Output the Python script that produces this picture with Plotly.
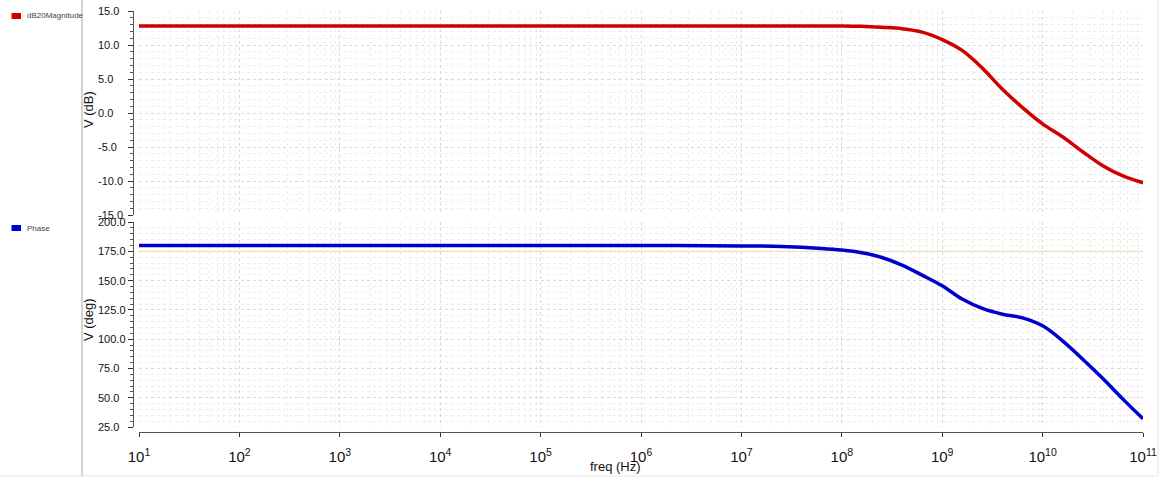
import plotly.graph_objects as go

# AC sweep results: magnitude (dB20) and phase of V vs frequency
mag_freq_hz = [1e1, 1e3, 1e5, 1e7, 1e8, 1.58e8, 2.51e8, 3.98e8, 6.31e8, 1e9,
               1.58e9, 2.51e9, 3.98e9, 6.31e9, 1e10, 1.58e10, 2.51e10,
               3.98e10, 6.31e10, 1e11]
mag_db = [12.8, 12.8, 12.8, 12.8, 12.8, 12.75, 12.6, 12.4, 11.9, 10.8,
          9.2, 6.6, 3.5, 0.8, -1.6, -3.5, -5.7, -7.75, -9.25, -10.25]

phase_freq_hz = [1e1, 1e3, 1e5, 1e6, 1e7, 2.51e7, 6.31e7, 1e8, 1.58e8, 2.51e8,
                 3.98e8, 6.31e8, 1e9, 1.58e9, 2.51e9, 3.98e9, 6.31e9, 1e10,
                 1.58e10, 2.51e10, 3.98e10, 6.31e10, 1e11]
phase_deg = [180.0, 180.0, 180.0, 180.0, 179.6, 179.1, 177.4, 176.0, 173.7,
             169.7, 163.2, 154.6, 145.5, 134.2, 126.2, 121.3, 118.2, 111.4,
             98.6, 82.9, 66.4, 48.8, 32.0]

phase_ref_deg = 175.0

# axis ticks
decade_exponents = list(range(1, 12))
freq_tick_vals = [10 ** e for e in decade_exponents]
freq_tick_text = [f"10<sup>{e}</sup>" for e in decade_exponents]
freq_minor_vals = [m * 10 ** e for e in decade_exponents[:-1] for m in range(2, 10)]
mag_tick_vals = [-15, -10, -5, 0, 5, 10, 15]
phase_tick_vals = [25, 50, 75, 100, 125, 150, 175, 200]

mag_name = "dB20Magnitude"
phase_name = "Phase"
mag_color = "#d10000"
phase_color = "#0000cc"

W, H = 1168, 483


def px_x(x):
    return x / W


def px_y(y):
    return 1 - y / H


fig = go.Figure()
fig.add_trace(go.Scatter(x=mag_freq_hz, y=mag_db, mode="lines", name=mag_name,
                         line=dict(color=mag_color, width=3.5, shape="spline", smoothing=1.0),
                         xaxis="x2", yaxis="y", showlegend=False))
fig.add_trace(go.Scatter(x=phase_freq_hz, y=phase_deg, mode="lines", name=phase_name,
                         line=dict(color=phase_color, width=3.5, shape="spline", smoothing=1.0),
                         xaxis="x", yaxis="y2", showlegend=False))

grid_major = "#d9d9d9"
grid_minor = "#ededed"
FONT = "Liberation Sans, Arial, sans-serif"
tick_font = dict(family=FONT, size=11, color="#111")

x_dom = [px_x(139), px_x(1143)]

common_x = dict(type="log", range=[1, 11], domain=x_dom, automargin=False,
                tickmode="array", tickvals=freq_tick_vals,
                showgrid=True, gridcolor=grid_major, griddash="dot", gridwidth=1,
                zeroline=False,
                minor=dict(tickmode="array", tickvals=freq_minor_vals,
                           showgrid=True, gridcolor=grid_minor, griddash="dot",
                           gridwidth=1))

common_y = dict(automargin=False, anchor="free", position=px_x(133),
                tickmode="array", showticklabels=False,
                ticks="outside", ticklen=5, tickcolor="#333",
                showline=True, linecolor="#555",
                showgrid=True, gridcolor=grid_major, griddash="dot", zeroline=False)

fig.update_layout(
    width=W, height=H,
    margin=dict(l=0, r=0, t=0, b=0, autoexpand=False),
    paper_bgcolor="white", plot_bgcolor="white",
    xaxis=dict(**common_x, anchor="free", position=px_y(432),
               ticktext=freq_tick_text, ticks="outside", ticklen=4,
               tickcolor="#333", showline=True, linecolor="#555", linewidth=1,
               tickfont=dict(family=FONT, size=15, color="#111"),
               ticklabelstandoff=7),
    xaxis2=dict(**common_x, anchor="y", matches="x", showticklabels=False,
                ticks="", showline=False),
    yaxis=dict(**common_y, domain=[px_y(215), px_y(11)], range=[-15, 15],
               tickvals=mag_tick_vals,
               minor=dict(dtick=1, ticks="outside", ticklen=3, tickcolor="#555",
                          showgrid=True, gridcolor=grid_minor, griddash="dot")),
    yaxis2=dict(**common_y, domain=[px_y(427), px_y(222)], range=[25, 200],
                tickvals=phase_tick_vals,
                minor=dict(dtick=5, ticks="outside", ticklen=3, tickcolor="#555",
                           showgrid=True, gridcolor=grid_minor, griddash="dot")),
)

# left-aligned value labels beside the y axes
for yref, vals in [("y", mag_tick_vals), ("y2", phase_tick_vals)]:
    for v in vals:
        fig.add_annotation(text=f"{v:.1f}", xref="paper", yref=yref,
                           x=px_x(96), y=v, xanchor="left", yanchor="middle",
                           showarrow=False, font=tick_font)

# faint marker line in the phase pane
fig.add_shape(type="line", xref="x domain", yref="y2", x0=0, x1=1,
              y0=phase_ref_deg, y1=phase_ref_deg,
              line=dict(color="#f1e39a", width=1), layer="below")

# axis captions
axis_font = dict(family=FONT, size=13, color="#111")
fig.add_annotation(text="freq (Hz)", xref="paper", yref="paper",
                   x=px_x(615), y=px_y(466), yanchor="middle", showarrow=False,
                   font=axis_font)
for text, yc in [("V (dB)", 110), ("V (deg)", 320)]:
    fig.add_annotation(text=text, xref="paper", yref="paper", textangle=-90,
                       x=px_x(88), y=px_y(yc), xanchor="center", yanchor="middle",
                       showarrow=False, font=axis_font)

# side panel with trace labels
for name, color, yc in [(mag_name, mag_color, 16), (phase_name, phase_color, 228)]:
    fig.add_shape(type="rect", xref="paper", yref="paper",
                  x0=px_x(11.5), x1=px_x(21), y0=px_y(yc + 3), y1=px_y(yc - 3),
                  fillcolor=color, line=dict(width=0))
    fig.add_annotation(text=name, xref="paper", yref="paper",
                       x=px_x(25), y=px_y(yc), xanchor="left", yanchor="middle",
                       showarrow=False,
                       font=dict(family=FONT, size=8, color="#444"))

# panel frame lines
fig.add_shape(type="line", xref="paper", yref="paper", x0=px_x(82), x1=px_x(82),
              y0=px_y(476), y1=1, line=dict(color="#a8a8a8", width=1))
fig.add_shape(type="line", xref="paper", yref="paper", x0=px_x(1158), x1=px_x(1158),
              y0=px_y(476), y1=1, line=dict(color="#e6e6e6", width=1))
fig.add_shape(type="line", xref="paper", yref="paper", x0=0, x1=px_x(1158),
              y0=px_y(476), y1=px_y(476), line=dict(color="#e6e6e6", width=1))

# page body without default margins so the figure fills the window
fig.write_html("out.html",
               post_script="document.body.style.margin='0';"
                           "document.body.style.overflow='hidden';")
